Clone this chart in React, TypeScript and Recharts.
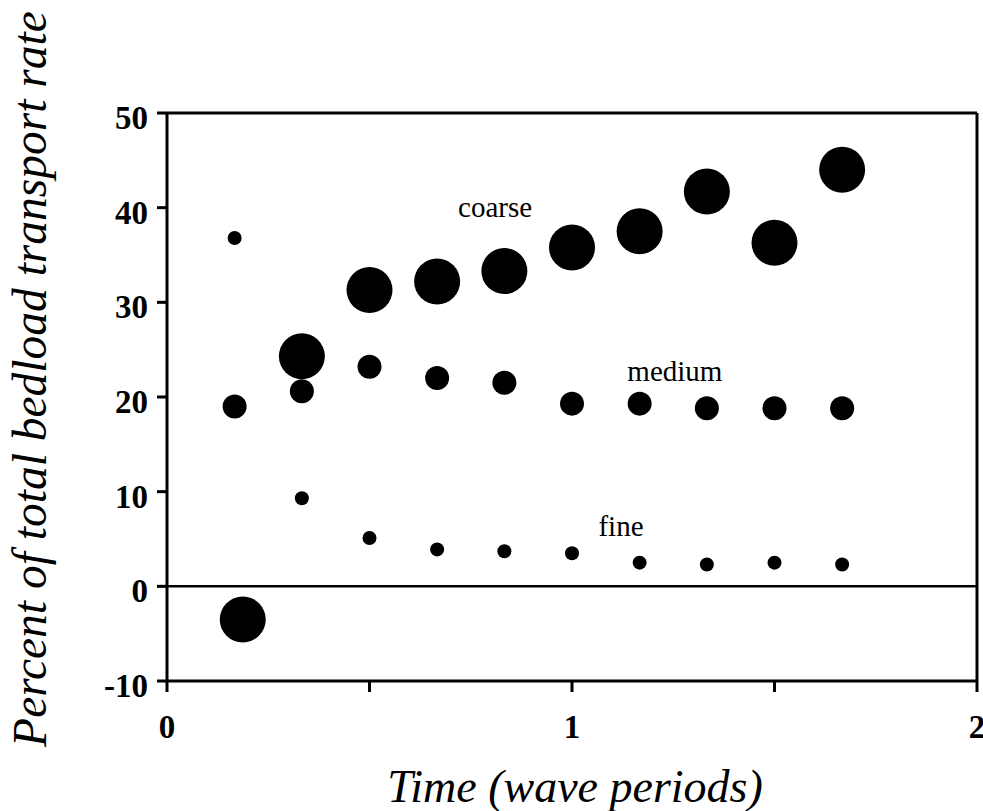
// Bedload transport by grain size over wave periods. Scatter, three sizes of black dots.

import { ReferenceLine, Scatter, ScatterChart, XAxis, YAxis } from "recharts";

const W = 983;
const H = 811;
const SERIF = "'Liberation Serif', 'Times New Roman', serif";

const TIME = [0.167, 0.333, 0.5, 0.667, 0.833, 1.0, 1.167, 1.333, 1.5, 1.667];
const COARSE_TIME = [0.187, 0.333, 0.5, 0.667, 0.833, 1.0, 1.167, 1.333, 1.5, 1.667];
const COARSE = [-3.5, 24.3, 31.3, 32.2, 33.3, 35.8, 37.5, 41.7, 36.3, 44.0];
const MEDIUM = [19.0, 20.6, 23.2, 22.0, 21.5, 19.3, 19.3, 18.8, 18.8, 18.8];
const FINE = [36.8, 9.3, 5.1, 3.9, 3.7, 3.5, 2.5, 2.3, 2.5, 2.3];

const X_TICKS = [0, 0.5, 1, 1.5, 2];
const Y_TICKS = [-10, 0, 10, 20, 30, 40, 50];

// series labels written inside the plot (x centre, baseline y in data units)
const NOTE_TEXT = ["coarse", "medium", "fine"];
const NOTE_X = [0.81, 1.254, 1.121];
const NOTE_Y = [39.0, 21.7, 5.3];

const coarseData = COARSE_TIME.map((t, i) => ({ t, v: COARSE[i] }));
const mediumData = TIME.map((t, i) => ({ t, v: MEDIUM[i] }));
const fineData = TIME.map((t, i) => ({ t, v: FINE[i] }));
const noteData = NOTE_TEXT.map((label, i) => ({ t: NOTE_X[i], v: NOTE_Y[i], label }));

const dot = (r: number) => (p: any) => <circle cx={p.cx} cy={p.cy} r={r} fill="#000" />;

function NoteShape(p: any) {
  return (
    <text x={p.cx} y={p.cy} textAnchor="middle" fontFamily={SERIF} fontSize={29} fill="#000">
      {p.payload.label}
    </text>
  );
}

function YTick({ x, y, payload }: any) {
  return (
    <text x={x} y={y + 16} textAnchor="end" fontFamily={SERIF} fontWeight="bold" fontSize={33} fill="#000">
      {payload.value}
    </text>
  );
}

function XTick({ x, y, payload }: any) {
  if (payload.value % 1 !== 0) return null;
  return (
    <text x={x} y={y + 46} textAnchor="middle" fontFamily={SERIF} fontWeight="bold" fontSize={33} fill="#000">
      {payload.value}
    </text>
  );
}

export default function App() {
  return (
    <div style={{ position: "absolute", left: 0, top: 0, width: W, height: H, background: "#fff" }}>
      <ScatterChart width={W} height={H} margin={{ top: 113, right: 6, bottom: 0, left: 0 }}>
        <XAxis
          type="number"
          dataKey="t"
          domain={[0, 2]}
          ticks={X_TICKS}
          height={130}
          tick={<XTick />}
          tickSize={11}
          tickMargin={0}
          axisLine={{ stroke: "#000", strokeWidth: 3 }}
          tickLine={{ stroke: "#000", strokeWidth: 3 }}
        />
        <YAxis
          type="number"
          dataKey="v"
          domain={[-10, 50]}
          ticks={Y_TICKS}
          width={167}
          tick={<YTick />}
          tickSize={10}
          tickMargin={9}
          axisLine={{ stroke: "#000", strokeWidth: 3 }}
          tickLine={{ stroke: "#000", strokeWidth: 3 }}
        />
        <ReferenceLine y={50} stroke="#000" strokeWidth={3} />
        <ReferenceLine x={2} stroke="#000" strokeWidth={3} />
        <ReferenceLine y={0} stroke="#000" strokeWidth={2.5} />
        <Scatter data={coarseData} shape={dot(23)} isAnimationActive={false} />
        <Scatter data={mediumData} shape={dot(12)} isAnimationActive={false} />
        <Scatter data={fineData} shape={dot(7)} isAnimationActive={false} />
        <Scatter data={noteData} shape={<NoteShape />} isAnimationActive={false} />
      </ScatterChart>

      {/* axis titles */}
      <svg width={W} height={H} style={{ position: "absolute", left: 0, top: 0, pointerEvents: "none" }}>
        <text x={575} y={802} textAnchor="middle" fontFamily={SERIF} fontStyle="italic" fontSize={46} fill="#000">
          Time (wave periods)
        </text>
        <text
          transform="translate(46,379) rotate(-90)"
          textAnchor="middle"
          fontFamily={SERIF}
          fontStyle="italic"
          fontSize={47.5}
          fill="#000"
        >
          Percent of total bedload transport rate
        </text>
      </svg>
    </div>
  );
}
